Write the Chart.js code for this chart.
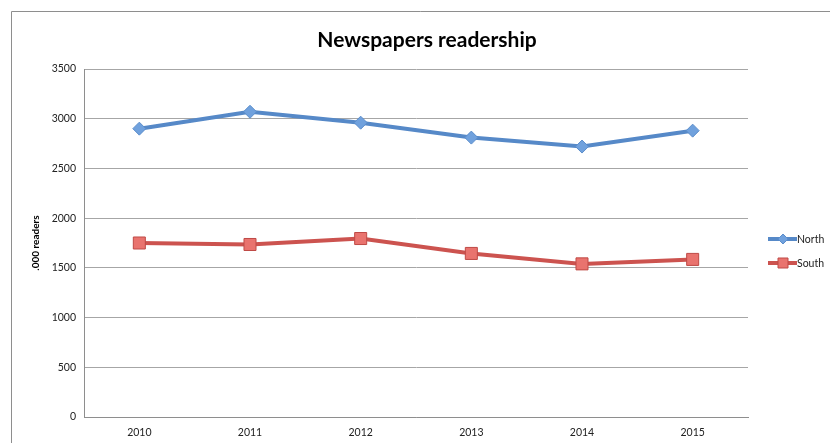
<!DOCTYPE html>
<html>
<head>
<meta charset="utf-8">
<title>Newspapers readership</title>
<script src="https://cdn.jsdelivr.net/npm/chart.js@4.4.1/dist/chart.umd.min.js"></script>
<style>
  html, body { margin: 0; padding: 0; background: #fff; }
  #chart { display: block; }
</style>
</head>
<body>
<canvas id="chart" width="830" height="443"></canvas>
<script>
// --- Data ---
const years = ['2010', '2011', '2012', '2013', '2014', '2015'];
const northReaders = [2900, 3070, 2960, 2810, 2720, 2880];
const southReaders = [1750, 1735, 1795, 1645, 1540, 1585];
const yTicks = [0, 500, 1000, 1500, 2000, 2500, 3000, 3500];
const chartTitle = 'Newspapers readership';

const FONT = 'Lato, "Open Sans", sans-serif';
const BLUE = '#5689C8';
const RED = '#CC534F';

// outer frame of the spreadsheet chart (only left + top fall inside the picture)
// and the title, centred on that frame rather than on the plot
const framePlugin = {
  id: 'frame',
  beforeDraw(chart) {
    const ctx = chart.ctx;
    ctx.save();
    ctx.strokeStyle = '#8e8e8e';
    ctx.lineWidth = 1;
    ctx.beginPath();
    ctx.moveTo(11.5, chart.height);
    ctx.lineTo(11.5, 11.5);
    ctx.lineTo(chart.width, 11.5);
    ctx.stroke();

    ctx.fillStyle = '#000';
    ctx.font = 'bold 21px ' + FONT;
    ctx.textAlign = 'center';
    ctx.textBaseline = 'middle';
    ctx.fillText(chartTitle, 427, 40);
    ctx.restore();
  }
};

// legend drawn as line + marker, like Excel
const legendPlugin = {
  id: 'lineLegend',
  afterDraw(chart) {
    const ctx = chart.ctx;
    const x0 = chart.chartArea.right + 20;
    const rows = [239, 263];
    ctx.save();
    chart.data.datasets.forEach((ds, i) => {
      const y = rows[i];
      const cx = x0 + 15;
      ctx.strokeStyle = ds.borderColor;
      ctx.lineWidth = 4;
      ctx.beginPath();
      ctx.moveTo(x0, y);
      ctx.lineTo(x0 + 29, y);
      ctx.stroke();

      ctx.fillStyle = ds.pointBackgroundColor;
      ctx.strokeStyle = ds.pointBorderColor;
      ctx.lineWidth = 1;
      ctx.beginPath();
      if (ds.pointStyle === 'rectRot') {
        const r = 5;
        ctx.moveTo(cx, y - r); ctx.lineTo(cx + r, y);
        ctx.lineTo(cx, y + r); ctx.lineTo(cx - r, y);
      } else {
        const s = 5;
        ctx.rect(cx - s, y - s, 2 * s, 2 * s);
      }
      ctx.closePath();
      ctx.fill();
      ctx.stroke();

      ctx.fillStyle = '#222';
      ctx.font = '10.5px ' + FONT;
      ctx.textAlign = 'left';
      ctx.textBaseline = 'middle';
      ctx.fillText(ds.label, x0 + 29, y + 1);
    });
    ctx.restore();
  }
};

new Chart(document.getElementById('chart'), {
  type: 'line',
  data: {
    labels: years,
    datasets: [
      {
        label: 'North',
        data: northReaders,
        borderColor: BLUE,
        borderWidth: 4,
        pointStyle: 'rectRot',
        pointRadius: 6.5,
        pointBackgroundColor: '#70A1DD',
        pointBorderColor: '#5B8DCB',
        pointBorderWidth: 1,
        tension: 0
      },
      {
        label: 'South',
        data: southReaders,
        borderColor: RED,
        borderWidth: 4,
        pointStyle: 'rect',
        pointRadius: 8.5,
        pointBackgroundColor: '#E9736E',
        pointBorderColor: '#BF4A46',
        pointBorderWidth: 1,
        tension: 0
      }
    ]
  },
  options: {
    responsive: false,
    devicePixelRatio: 1,
    animation: false,
    layout: { padding: { left: 0, right: 82, top: 69, bottom: 0 } },
    plugins: {
      legend: { display: false },
      tooltip: { enabled: false },
      title: { display: false }
    },
    scales: {
      x: {
        offset: true,
        afterFit(scale) { scale.height = 26; },
        grid: { display: false, drawTicks: false },
        border: { color: '#8e8e8e', width: 1 },
        ticks: { color: '#222', font: { family: FONT, size: 10.5 }, padding: 9, maxRotation: 0 }
      },
      y: {
        min: 0,
        max: 3500,
        afterBuildTicks(scale) { scale.ticks = yTicks.map(v => ({ value: v })); },
        afterFit(scale) { scale.width = 84; },
        grid: { color: '#a6a6a6', lineWidth: 1, drawTicks: false },
        border: { color: '#8e8e8e', width: 1 },
        ticks: {
          color: '#222',
          font: { family: FONT, size: 10.5 },
          padding: 8,
          callback: v => String(v)
        },
        title: {
          display: true,
          text: '.000 readers',
          color: '#000',
          font: { family: FONT, size: 10, weight: 'bold' },
          padding: { top: 30, bottom: 0 }
        }
      }
    }
  },
  plugins: [framePlugin, legendPlugin]
});
</script>
</body>
</html>
